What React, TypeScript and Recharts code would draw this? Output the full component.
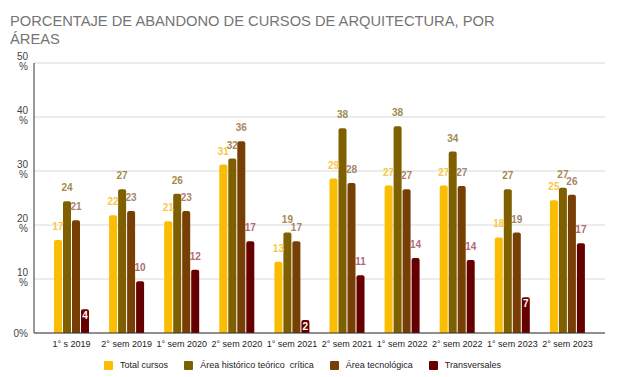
import { BarChart, Bar, XAxis, YAxis, CartesianGrid, Legend, LabelList } from 'recharts'

const periods = [
  '1° s 2019', '2° sem 2019', '1° sem 2020', '2° sem 2020', '1° sem 2021',
  '2° sem 2021', '1° sem 2022', '2° sem 2022', '1° sem 2023', '2° sem 2023',
]
const totalCursos = [17.2, 21.8, 20.7, 31.2, 13.2, 28.6, 27.3, 27.3, 17.7, 24.6]
const historico = [24.4, 26.6, 25.8, 32.3, 18.6, 37.9, 38.3, 33.6, 26.6, 26.9]
const tecnologica = [20.9, 22.6, 22.6, 35.5, 17.0, 27.8, 26.6, 27.2, 18.6, 25.6]
const transversales = [4.4, 9.6, 11.7, 17.0, 2.4, 10.7, 13.9, 13.5, 6.6, 16.6]
const yTicks = [0, 10, 20, 30, 40, 50]

const series = [
  { key: 'total', name: 'Total cursos', values: totalCursos, color: '#fbbc04', labelColor: '#f9c846' },
  { key: 'hist', name: 'Área histórico teórico  crítica', values: historico, color: '#7f6000', labelColor: '#a08c4c' },
  { key: 'tec', name: 'Área tecnológica', values: tecnologica, color: '#783f04', labelColor: '#a7846a' },
  { key: 'trans', name: 'Transversales', values: transversales, color: '#660000', labelColor: '#b06a72' },
]

const data = periods.map((p, i) => {
  const row: Record<string, string | number> = { period: p }
  series.forEach((s) => { row[s.key] = s.values[i] })
  return row
})

const font = 'Arial, "Liberation Sans", sans-serif'

function YTick({ y, payload }: any) {
  const v = payload.value
  if (v === 0) {
    return <text x={28} y={y + 4} textAnchor="end" fontSize={10} fill="#444" fontFamily={font}>0%</text>
  }
  return (
    <text x={28} y={y} textAnchor="end" fontSize={10} fill="#444" fontFamily={font}>
      <tspan x={28} dy={-3}>{v}</tspan>
      <tspan x={28} dy={10}>%</tspan>
    </text>
  )
}

function makeLabel(color: string) {
  return (props: any) => {
    const { x, y, width, value } = props
    const cx = x + width / 2
    const txt = Math.round(value)
    if (value < 8) {
      return <text x={cx} y={y + 10} textAnchor="middle" fontSize={10} fontWeight="bold" fill="#fff" fontFamily={font}>{txt}</text>
    }
    return <text x={cx} y={y - 10} textAnchor="middle" fontSize={10} fontWeight="bold" fill={color} fontFamily={font}>{txt}</text>
  }
}

function LegendContent() {
  return (
    <div style={{ display: 'flex', justifyContent: 'center', alignItems: 'center', height: 24, fontFamily: font, fontSize: 9, color: '#222' }}>
      {series.map((s) => (
        <div key={s.key} style={{ display: 'flex', alignItems: 'center', margin: '0 8px' }}>
          <span style={{ width: 9, height: 9, background: s.color, borderRadius: 1, marginRight: 7, display: 'inline-block' }} />
          <span style={{ whiteSpace: 'pre' }}>{s.name}</span>
        </div>
      ))}
    </div>
  )
}

export default function App() {
  return (
    <div style={{ position: 'absolute', left: 0, top: 0, width: 621, height: 377, background: '#fff' }}>
      <div style={{ position: 'absolute', left: 10, top: 12, width: 500, fontFamily: font, fontSize: 14.7, lineHeight: '18px', color: '#757575', zIndex: 2 }}>
        PORCENTAJE DE ABANDONO DE CURSOS DE ARQUITECTURA, POR ÁREAS
      </div>
      <BarChart width={621} height={377} data={data} margin={{ top: 63, right: 16, bottom: 0, left: 0 }} barGap={1} barSize={8}>
        <CartesianGrid vertical={false} stroke="#d9d9d9" />
        <XAxis
          dataKey="period"
          interval={0}
          height={20}
          tickLine={false}
          axisLine={{ stroke: '#333' }}
          padding={{ left: 10, right: 10 }}
          tick={{ fontSize: 9, fill: '#222', fontFamily: font }}
          tickMargin={2}
        />
        <YAxis
          width={34}
          domain={[0, 50]}
          ticks={yTicks}
          tickLine={false}
          axisLine={{ stroke: '#333' }}
          tick={<YTick />}
        />
        <Legend verticalAlign="bottom" content={<LegendContent />} wrapperStyle={{ height: 24 }} />
        {series.map((s) => (
          <Bar key={s.key} dataKey={s.key} name={s.name} fill={s.color} radius={[2, 2, 0, 0]} isAnimationActive={false}>
            <LabelList dataKey={s.key} content={makeLabel(s.labelColor)} />
          </Bar>
        ))}
      </BarChart>
    </div>
  )
}
